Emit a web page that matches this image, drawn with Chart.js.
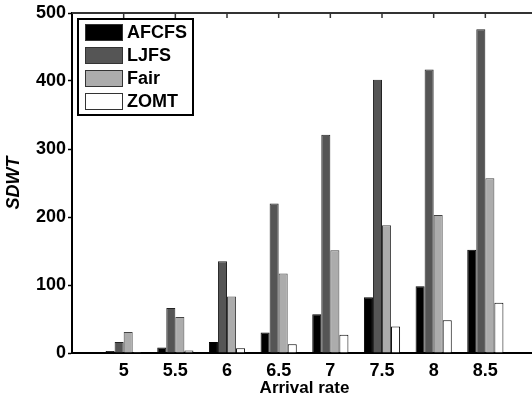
<!DOCTYPE html>
<html>
<head>
<meta charset="utf-8">
<script src="https://cdn.jsdelivr.net/npm/chart.js@4/dist/chart.umd.min.js"></script>
<style>
  html, body { margin: 0; padding: 0; background: #fff; overflow: hidden; }
  #wrap { width: 540px; height: 401px; }
</style>
</head>
<body>
<div id="wrap"><canvas id="sdwt-chart" width="540" height="401"></canvas></div>
<script>
// arrival rates (x) and SDWT per scheduler
const rates = [5, 5.5, 6, 6.5, 7, 7.5, 8, 8.5];
const afcfs = [3, 8, 16, 30, 57, 82, 98, 152];
const ljfs  = [16, 66, 135, 220, 321, 402, 417, 476];
const fair  = [31, 53, 83, 117, 151, 188, 203, 257];
const zomt  = [1.5, 3.5, 7, 13, 27, 39, 48, 74];
const yTicks = [0, 100, 200, 300, 400, 500];

const toPoints = vals => vals.map((v, i) => ({ x: rates[i], y: v }));

// boxed legend in the top-left corner of the plot, matlab style
const boxLegend = {
    id: 'boxLegend',
    afterDraw(chart) {
        const ctx = chart.ctx;
        const area = chart.chartArea;
        const x0 = area.left + 6, y0 = area.top + 6;
        ctx.save();
        ctx.fillStyle = '#fff';
        ctx.fillRect(x0, y0, 115, 96);
        ctx.strokeStyle = '#000';
        ctx.lineWidth = 2;
        ctx.strokeRect(x0, y0, 115, 96);
        ctx.font = 'bold 18px "Liberation Sans", Arial, sans-serif';
        ctx.textBaseline = 'middle';
        chart.data.datasets.forEach((ds, i) => {
            const ry = y0 + 5 + i * 23;
            ctx.fillStyle = ds.backgroundColor;
            ctx.fillRect(x0 + 7, ry, 38, 17);
            ctx.lineWidth = 1;
            ctx.strokeStyle = '#333';
            ctx.strokeRect(x0 + 7.5, ry + 0.5, 37, 16);
            ctx.fillStyle = '#000';
            ctx.fillText(ds.label, x0 + 49, ry + 9);
        });
        ctx.restore();
    }
};

// top frame line with inward ticks
const topFrame = {
    id: 'topFrame',
    afterDatasetsDraw(chart) {
        const ctx = chart.ctx;
        const area = chart.chartArea;
        const xs = chart.scales.x;
        ctx.save();
        ctx.strokeStyle = '#333';
        ctx.lineWidth = 2;
        ctx.beginPath();
        ctx.moveTo(area.left, area.top);
        ctx.lineTo(area.right + 10, area.top);
        ctx.stroke();
        ctx.lineWidth = 1.5;
        rates.forEach(r => {
            const px = xs.getPixelForValue(r);
            ctx.beginPath();
            ctx.moveTo(px, area.top);
            ctx.lineTo(px, area.top + 5);
            ctx.stroke();
        });
        ctx.restore();
    }
};

const ctx = document.getElementById('sdwt-chart').getContext('2d');
new Chart(ctx, {
    type: 'bar',
    data: {
        datasets: [
            { label: 'AFCFS', data: toPoints(afcfs), backgroundColor: '#000000', borderColor: '#000', borderWidth: 1 },
            { label: 'LJFS',  data: toPoints(ljfs),  backgroundColor: '#555555', borderColor: '#222', borderWidth: 1 },
            { label: 'Fair',  data: toPoints(fair),  backgroundColor: '#acacac', borderColor: '#444', borderWidth: 1 },
            { label: 'ZOMT',  data: toPoints(zomt),  backgroundColor: '#ffffff', borderColor: '#000', borderWidth: 1 }
        ]
    },
    options: {
        responsive: false,
        animation: false,
        categoryPercentage: 0.7,
        barPercentage: 1.0,
        layout: { padding: { top: 13, right: 3, left: 0, bottom: 0 } },
        plugins: {
            legend: { display: false },
            tooltip: { enabled: false }
        },
        scales: {
            x: {
                type: 'linear',
                min: 4.5,
                max: 9,
                offset: false,
                afterBuildTicks: s => { s.ticks = rates.map(v => ({ value: v })); },
                afterFit: s => { s.height = 48; },
                grid: { display: true, drawOnChartArea: false, drawTicks: false, offset: false },
                border: { color: '#000', width: 2 },
                ticks: {
                    color: '#000',
                    padding: 7,
                    maxRotation: 0,
                    font: { family: '"Liberation Sans", Arial, sans-serif', size: 18, weight: 'bold' },
                    callback: v => String(v)
                },
                title: {
                    display: true,
                    text: 'Arrival rate',
                    color: '#000',
                    padding: { top: 0, bottom: 2 },
                    font: { family: '"Liberation Sans", Arial, sans-serif', size: 17, weight: 'bold' }
                }
            },
            y: {
                min: 0,
                max: 500,
                afterBuildTicks: s => { s.ticks = yTicks.map(v => ({ value: v })); },
                afterFit: s => { s.width = 72; },
                grid: { drawOnChartArea: false, drawTicks: true, tickLength: 4, tickColor: '#000', tickWidth: 1.5 },
                border: { color: '#000', width: 2 },
                ticks: {
                    color: '#000',
                    padding: 2,
                    font: { family: '"Liberation Sans", Arial, sans-serif', size: 18, weight: 'bold' }
                },
                title: {
                    display: true,
                    text: 'SDWT',
                    color: '#000',
                    padding: { top: 3, bottom: 0 },
                    font: { family: '"Liberation Sans", Arial, sans-serif', size: 18, weight: 'bold', style: 'italic' }
                }
            }
        }
    },
    plugins: [topFrame, boxLegend]
});
</script>
</body>
</html>
